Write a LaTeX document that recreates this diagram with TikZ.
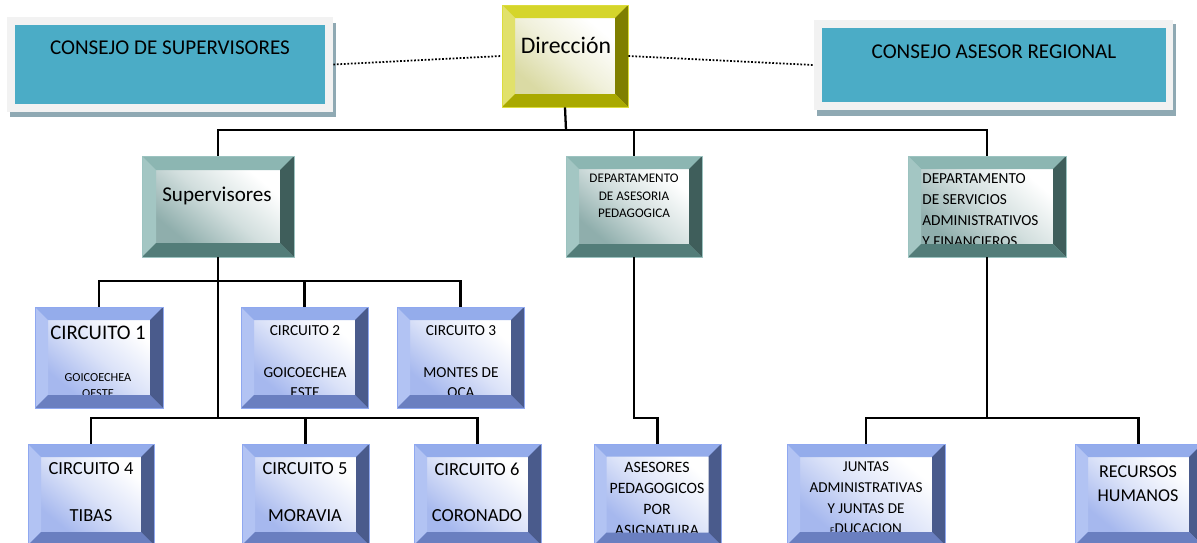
\documentclass[tikz,border=0pt]{standalone}
\usepackage{fontspec}
\setmainfont{Carlito}
\usetikzlibrary{fit}
\definecolor{bT}{HTML}{94ACEB}
\definecolor{bL}{HTML}{B2C3F3}
\definecolor{bR}{HTML}{4A5B8C}
\definecolor{bB}{HTML}{6A7FC0}
\definecolor{bO}{HTML}{8FA8F0}
\definecolor{bS}{HTML}{A6B8EE}
\definecolor{gT}{HTML}{8CB6B2}
\definecolor{gL}{HTML}{A3C6C3}
\definecolor{gR}{HTML}{3F5E5B}
\definecolor{gB}{HTML}{537D79}
\definecolor{gO}{HTML}{9CC3C0}
\definecolor{gS}{HTML}{8FAEAC}
\definecolor{yT}{HTML}{D5D52B}
\definecolor{yL}{HTML}{E1E16B}
\definecolor{yR}{HTML}{7F7F00}
\definecolor{yB}{HTML}{A9A900}
\definecolor{yO}{HTML}{DCDC3C}
\definecolor{yS}{HTML}{DADAA4}
\definecolor{cTeal}{HTML}{4BACC6}
\definecolor{cFrame}{HTML}{F2F2F2}
\definecolor{cShadow}{HTML}{8FA9B3}
\newcommand\fsz[1]{\fontsize{#1}{#1}\selectfont}
% name, x1, y1, x2, y2, scheme, bevel, text code
\newcommand\bevbox[8]{%
  \fill[#6O] (#2,#3) rectangle (#4,#5);
  \shade[top color=white, bottom color=#6S, middle color=white!60!#6S, shading angle=-40]
    ({#2+#7},{#3+#7}) rectangle ({#4-#7},{#5-#7});
  \begin{scope}
    \clip ({#2+#7},{#3+#7}) rectangle ({#4-#7},{#5-#7});
    #8
  \end{scope}
  \fill[#6T] (#2,#3) -- (#4,#3) -- ({#4-#7},{#3+#7}) -- ({#2+#7},{#3+#7}) -- cycle;
  \fill[#6L] (#2,#3) -- ({#2+#7},{#3+#7}) -- ({#2+#7},{#5-#7}) -- (#2,#5) -- cycle;
  \fill[#6R] (#4,#3) -- (#4,#5) -- ({#4-#7},{#5-#7}) -- ({#4-#7},{#3+#7}) -- cycle;
  \fill[#6B] (#2,#5) -- (#4,#5) -- ({#4-#7},{#5-#7}) -- ({#2+#7},{#5-#7}) -- cycle;
  \draw[#6O, line width=0.4pt] (#2,#3) rectangle (#4,#5);
  \node[fit={(#2,#3) (#4,#5)}, inner sep=0pt] (#1) {};
}
\tikzset{
  txt/.style={inner sep=0pt, text=black},
  conn/.style={line width=1.3pt, black},
  dotline/.style={line width=1pt, black, dash pattern=on 1pt off 1pt}
}
\begin{document}
\begin{tikzpicture}[x=0.02cm, y=-0.02cm]
\clip (0,0) rectangle (1197,542);
\fill[white] (0,0) rectangle (1197,542);

% ---- Consejo boxes
\fill[cShadow] (10,23) rectangle (336,117);
\fill[cFrame] (7,17) rectangle (333,112);
\fill[cTeal] (15,25) rectangle (325,104);
\node[fit={(7,17) (333,112)}, inner sep=0pt] (cs) {};
\node[txt] (cstext) at (170,48) {\fsz{12}CONSEJO DE SUPERVISORES};

\fill[cShadow] (817,24) rectangle (1176,116);
\fill[cFrame] (814,20) rectangle (1173,110);
\fill[cTeal] (822,28) rectangle (1166,102);
\node[fit={(814,20) (1173,110)}, inner sep=0pt] (car) {};
\node[txt] (cartext) at (994,52) {\fsz{12}CONSEJO ASESOR REGIONAL};

% ---- Direccion
\bevbox{dir}{502}{5}{628}{107}{y}{13}{%
  \node[txt] (dirtext) at (566,45) {\fsz{13.5}Dirección};}

% ---- Second level
\bevbox{sup}{142}{156}{294}{257}{g}{14}{%
  \node[txt] (suptext) at (217,196) {\fsz{12}Supervisores};}
\bevbox{dap}{566}{156}{702}{257}{g}{13}{%
  \node[txt] (dap1) at (634,178) {\fsz{7.5}DEPARTAMENTO};
  \node[txt] (dap2) at (634,196) {\fsz{7.5}DE ASESORIA};
  \node[txt] (dap3) at (634,213) {\fsz{7.5}PEDAGOGICA};}
\bevbox{dsaf}{908}{156}{1066}{257}{g}{13}{%
  \node[txt, anchor=west] (ds1) at (922,179) {\fsz{8.7}DEPARTAMENTO};
  \node[txt, anchor=west] (ds2) at (922,200) {\fsz{8.7}DE SERVICIOS};
  \node[txt, anchor=west] (ds3) at (922,221) {\fsz{8.7}ADMINISTRATIVOS};
  \node[txt, anchor=west] (ds4) at (922,242) {\fsz{8.7}Y FINANCIEROS};}

% ---- Circuits row 1
\bevbox{c1}{35}{307}{163}{408}{b}{13}{%
  \node[txt] (c1a) at (98,333) {\fsz{11.8}CIRCUITO 1};
  \node[txt] (c1b) at (98,378) {\fsz{7}GOICOECHEA};
  \node[txt] (c1c) at (98,394) {\fsz{7}OESTE};}
\bevbox{c2}{241}{307}{368}{408}{b}{13}{%
  \node[txt] (c2a) at (305,331) {\fsz{8.7}CIRCUITO 2};
  \node[txt] (c2b) at (305,373) {\fsz{8.7}GOICOECHEA};
  \node[txt] (c2c) at (305,393) {\fsz{8.7}ESTE};}
\bevbox{c3}{397}{307}{524}{408}{b}{13}{%
  \node[txt] (c3a) at (461,331) {\fsz{8.7}CIRCUITO 3};
  \node[txt] (c3b) at (461,373) {\fsz{8.7}MONTES DE};
  \node[txt] (c3c) at (461,393) {\fsz{8.7}OCA};}

% ---- Circuits row 2
\bevbox{c4}{28}{444}{154}{545}{b}{13}{%
  \node[txt] (c4a) at (91,469) {\fsz{10.5}CIRCUITO 4};
  \node[txt] (c4b) at (91,516) {\fsz{10.5}TIBAS};}
\bevbox{c5}{242}{444}{369}{545}{b}{13}{%
  \node[txt] (c5a) at (305,469) {\fsz{10.5}CIRCUITO 5};
  \node[txt] (c5b) at (305,516) {\fsz{10.5}MORAVIA};}
\bevbox{c6}{414}{444}{541}{545}{b}{13}{%
  \node[txt] (c6a) at (477,469) {\fsz{10.5}CIRCUITO 6};
  \node[txt] (c6b) at (477,516) {\fsz{10.5}CORONADO};}

% ---- Bottom right
\bevbox{ase}{594}{444}{721}{545}{b}{12.5}{%
  \node[txt] (as1) at (657,467) {\fsz{9}ASESORES};
  \node[txt] (as2) at (657,488) {\fsz{9}PEDAGOGICOS};
  \node[txt] (as3) at (657,509) {\fsz{9}POR};
  \node[txt] (as4) at (657,530) {\fsz{9}ASIGNATURA};}
\bevbox{jun}{787}{444}{945}{545}{b}{13}{%
  \node[txt] (ju1) at (866,467) {\fsz{8.6}JUNTAS};
  \node[txt] (ju2) at (866,488) {\fsz{8.6}ADMINISTRATIVAS};
  \node[txt] (ju3) at (866,509) {\fsz{8.6}Y JUNTAS DE};
  \node[txt] (ju4) at (866,529) {{\fsz{5}E}\fsz{8.6}DUCACION};}
\bevbox{rh}{1075}{444}{1202}{545}{b}{13}{%
  \node[txt] (rh1) at (1138,472) {\fsz{10.3}RECURSOS};
  \node[txt] (rh2) at (1138,496) {\fsz{10.3}HUMANOS};}

% ---- Dotted links
\draw[dotline] (cs.east) -- (dir.west);
\draw[dotline] (dir.east) -- (car.west);

% ---- Connectors
\coordinate (busA) at (566,130);
\coordinate (busB) at (218,281);
\coordinate (busC) at (218,418);
\coordinate (busD) at (634,418);
\coordinate (busE) at (987,418);
\draw[conn] (dir.south) -- (busA);
\draw[conn] (sup.north) |- (busA) -| (dsaf.north);
\draw[conn] (dap.north) -- (dap.north |- busA);

\draw[conn] (sup.south) -- (busC);
\draw[conn] (c1.north) |- (busB) -| (c3.north);
\draw[conn] (c2.north) -- (c2.north |- busB);
\draw[conn] (c4.north) |- (busC) -| (c6.north);
\draw[conn] (c5.north) -- (c5.north |- busC);

\draw[conn] (dap.south) -- (dap.south |- busD) -| (ase.north);

\draw[conn] (dsaf.south) -- (dsaf.south |- busE);
\draw[conn] (jun.north) |- (busE) -| (rh.north);
\end{tikzpicture}
\end{document}
